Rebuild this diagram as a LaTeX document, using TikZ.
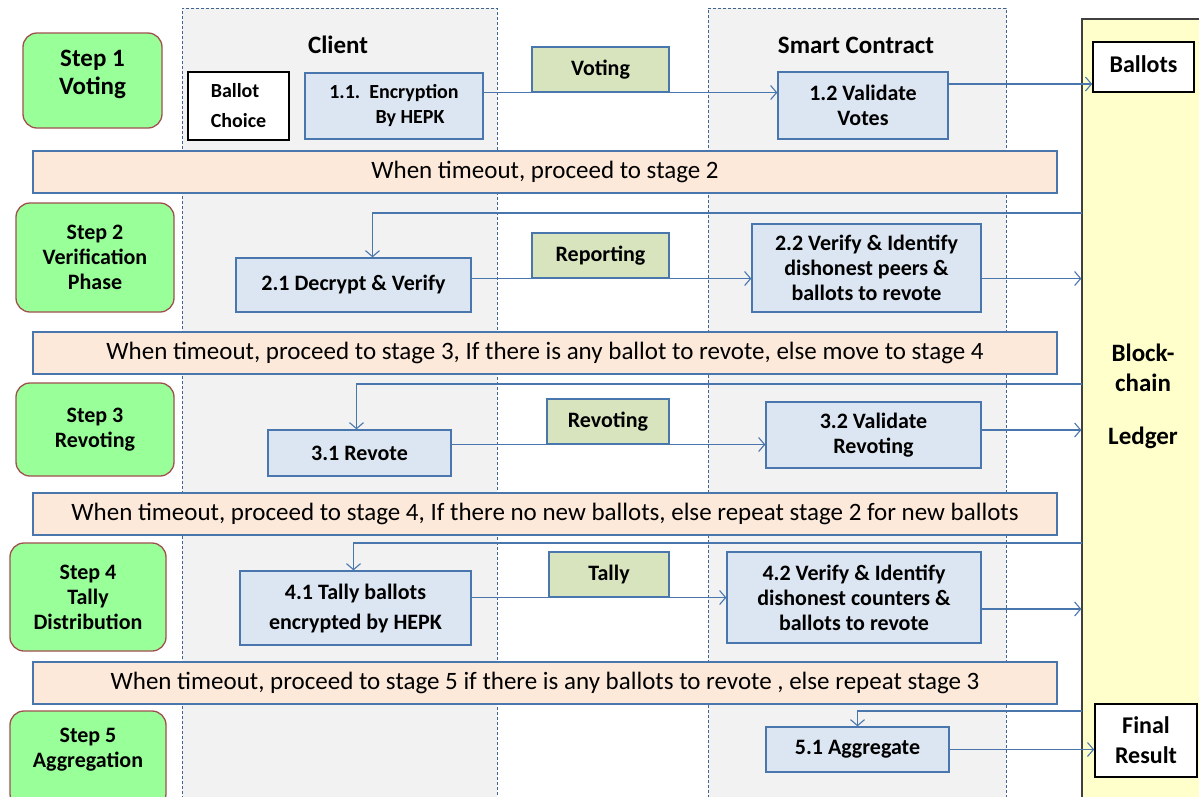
\documentclass[tikz,border=0pt]{standalone}
\usepackage{fontspec}
\setmainfont{Carlito}
\usetikzlibrary{arrows.meta, positioning, calc}
\definecolor{stagefill}{HTML}{99FF99}
\definecolor{stagedraw}{HTML}{A0504F}
\definecolor{procfill}{HTML}{DCE6F2}
\definecolor{procdraw}{HTML}{4A76AE}
\definecolor{msgfill}{HTML}{D7E4BD}
\definecolor{bannerfill}{HTML}{FDE9D9}
\definecolor{lanefill}{HTML}{F2F2F2}
\definecolor{lanedraw}{HTML}{41648F}
\definecolor{ledgerfill}{HTML}{FFFFCC}
\newcommand{\boxfont}{\bfseries\fontsize{22}{25}\selectfont}
\newcommand{\bigfont}{\bfseries\fontsize{25}{28}\selectfont}
\newcommand{\smallfont}{\bfseries\fontsize{20}{25}\selectfont}
\tikzset{%
	wh/.style 2 args={minimum width=#1, minimum height=#2},
	stage/.style={draw=stagedraw, fill=stagefill, line width=1.3pt, rounded corners=14pt,%
		align=center, inner sep=0pt, font=\boxfont},
	proc/.style={draw=procdraw, fill=procfill, line width=1.3pt, align=center, inner sep=0pt, font=\boxfont},
	msg/.style={draw=procdraw, fill=msgfill, line width=1.1pt, inner sep=0pt, minimum height=45pt, font=\boxfont},
	banner/.style={draw=procdraw, fill=bannerfill, line width=1.3pt, wh={1024pt}{42pt},%
		inner sep=0pt, font=\fontsize{25}{28}\selectfont},
	lane/.style={draw=lanedraw, fill=lanefill, line width=0.9pt, dash pattern=on 3pt off 2pt},
	ledger/.style={draw=black!75, fill=ledgerfill, line width=1.3pt},
	store/.style={draw=black, fill=white, line width=1.6pt, align=center, inner sep=0pt,%
		font=\bfseries\fontsize{24}{27}\selectfont},
	flow/.style={-{Straight Barb[length=6pt, width=14pt]}, draw=procdraw, line width=1.1pt},
	lbl/.style={font=\boxfont, align=center}
}
\begin{document}
\begin{tikzpicture}[x=1pt, y=-1pt]
	\useasboundingbox (0,0) rectangle (1199,796);
	\fill[white] (0,0) rectangle (1199,796);

	\node[lane, wh={315pt}{802pt}] (client) at (339.5,409) {};
	\node[lane, wh={298pt}{802pt}] (contract) at (857,409) {};
	\node[ledger, wh={128pt}{791pt}] (led) at (1146,414.5) {};
	\node[lbl, font=\bigfont] (clientlbl) at (338,45) {Client};
	\node[lbl, font=\bigfont] (contractlbl) at (856,45) {Smart Contract};
	\node[lbl, font=\bigfont] (ledlbl) at (1143,396) {Block-\\[2pt]chain\\[25pt]Ledger};

	\node[stage, wh={139pt}{95pt}] (s1) at (92.5,80.5) {};
	\node[lbl, font=\bigfont] (s1lbl) at (92.5,74) {Step 1\\Voting};
	\node[stage, wh={158pt}{109pt}] (s2) at (95,257.5) {Step 2\\Verification\\Phase};
	\node[stage, wh={158pt}{93pt}] (s3) at (95,429.5) {Step 3\\Revoting};
	\node[stage, wh={156pt}{108pt}] (s4) at (88,597) {Step 4\\Tally\\Distribution};
	\node[stage, wh={156pt}{97pt}] (s5) at (88,759.5) {};
	\node[lbl] (s5lbl) at (88,750) {Step 5\\Aggregation};

	\node[banner] (b1) at (545,172) {When timeout, proceed to stage 2};
	\node[banner] (b2) at (545,353) {When timeout, proceed to stage 3, If there is any ballot to revote, else move to stage 4};
	\node[banner] (b3) at (545,514) {When timeout, proceed to stage 4, If there no new ballots, else repeat stage 2 for new ballots};
	\node[banner] (b4) at (545,683) {When timeout, proceed to stage 5 if there is any ballots to revote , else repeat stage 3};

	\node[store, align=left, font=\smallfont, wh={101pt}{68pt}] (choice) at (238.5,106) {Ballot\\[5pt]Choice};
	\node[proc, font=\smallfont, wh={178pt}{66pt}] (enc) at (394,106) {1.1.\ \ Encryption\\\hspace*{32pt}By HEPK};
	\node[msg, minimum width=137pt] (mvote) at (600.5,69.5) {Voting};
	\node[proc, wh={170pt}{67pt}] (val1) at (863,105.5) {1.2 Validate\\Votes};
	\node[store, wh={101pt}{50pt}] (ballots) at (1143.5,67) {\raisebox{5pt}{Ballots}};

	\node[proc, wh={235pt}{54pt}] (dec) at (353.5,285) {2.1 Decrypt \& Verify};
	\node[msg, minimum width=137pt] (mrep) at (600.5,255.5) {Reporting};
	\node[proc, wh={229pt}{88pt}] (ver2) at (866.5,268) {2.2 Verify \& Identify\\dishonest peers \&\\ballots to revote};

	\node[proc, wh={183pt}{46pt}] (rev) at (359.5,453) {3.1 Revote};
	\node[msg, minimum width=122pt] (mrevote) at (608,421.5) {Revoting};
	\node[proc, wh={215pt}{66pt}] (val3) at (873.5,435) {3.2 Validate\\Revoting};

	\node[proc, wh={231pt}{74pt}] (tally) at (355.5,608) {4.1 Tally ballots\\[5pt]encrypted by HEPK};
	\node[msg, minimum width=120pt] (mtally) at (609,574.5) {Tally};
	\node[proc, wh={254pt}{91pt}] (ver4) at (854,597.5) {4.2 Verify \& Identify\\dishonest counters \&\\ballots to revote};

	\node[proc, wh={183pt}{45pt}] (agg) at (857.5,749.5) {5.1 Aggregate};
	\node[store, wh={102pt}{73pt}] (final) at (1146,740.5) {Final\\[3pt]Result};

	\coordinate (fb2) at (1082,213);
	\coordinate (fb3) at (1082,384);
	\coordinate (fb4) at (1082,543);
	\coordinate (fb5) at (1082,711);

	\draw[flow] (enc.east |- mvote.south) -- (val1.west |- mvote.south);
	\draw[flow] ([yshift=21.5pt]val1.east) -- ([yshift=-17pt]ballots.west);
	\draw[flow] (fb2) -| ([xshift=19pt]dec.north);
	\draw[flow] (dec.east |- mrep.south) -- (ver2.west |- mrep.south);
	\draw[flow] (ver2.east |- mrep.south) -- (led.west |- mrep.south);
	\draw[flow] (fb3) -| ([xshift=-3pt]rev.north);
	\draw[flow] (rev.east |- mrevote.south) -- (val3.west |- mrevote.south);
	\draw[flow] ([yshift=5pt]val3.east) -- ([yshift=5pt]val3.east -| led.west);
	\draw[flow] (fb4) -| ([xshift=-2pt]tally.north);
	\draw[flow] (tally.east |- mtally.south) -- (ver4.west |- mtally.south);
	\draw[flow] ([yshift=-11.5pt]ver4.east) -- ([yshift=-11.5pt]ver4.east -| led.west);
	\draw[flow] (fb5) -| (agg.north);
	\draw[flow] (agg.east) -- (agg.east -| final.west);
\end{tikzpicture}
\end{document}
